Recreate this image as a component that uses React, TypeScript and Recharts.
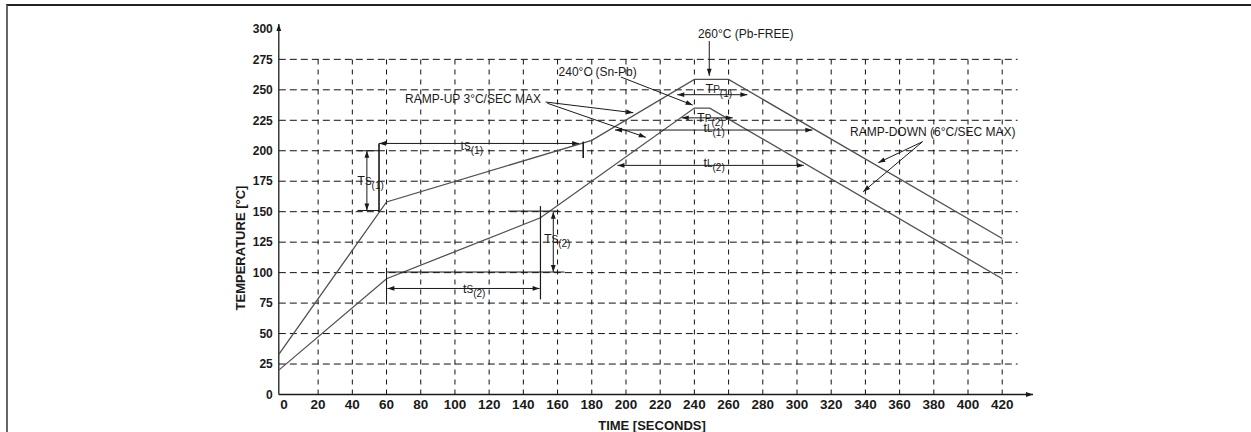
import React from "react";
import { LineChart, Line, XAxis, YAxis, ReferenceLine, ReferenceDot } from "recharts";

// reflow profiles (time s, temperature °C)
const PB_FREE_TIME = [-3, 60, 180, 240, 260, 420];
const PB_FREE_TEMP = [33, 158, 208.5, 258.5, 258.5, 128];
const SNPB_TIME = [-3, 60, 150, 240, 249, 420];
const SNPB_TEMP = [20, 95, 145, 235, 235, 95];

const X_TICKS = [0, 20, 40, 60, 80, 100, 120, 140, 160, 180, 200, 220, 240, 260, 280, 300, 320, 340, 360, 380, 400, 420];
const Y_TICKS = [0, 25, 50, 75, 100, 125, 150, 175, 200, 225, 250, 275, 300];
const GRID_X = [20, 40, 60, 80, 100, 120, 140, 160, 180, 200, 220, 240, 260, 280, 300, 320, 340, 360, 380, 400, 420];
const GRID_Y = [25, 50, 75, 100, 125, 150, 175, 200, 225, 250, 275];

type Heads = "none" | "end" | "both";
// annotation segments: [t1, T1, t2, T2], heads, stroke width
const SEGMENTS: { p: number[]; heads?: Heads; w?: number }[] = [
  // Ts(1)
  { p: [43, 200, 55.6, 200] },
  { p: [43, 151, 55.6, 151] },
  { p: [55.6, 206, 55.6, 150], w: 1.6 },
  { p: [48.5, 200, 48.5, 151], heads: "both" },
  // ts(1)
  { p: [55.6, 206, 172.6, 206], heads: "both" },
  { p: [175, 194, 175, 207.5], w: 1.6 },
  // Ts(2)
  { p: [131, 150.5, 161, 150.5] },
  { p: [150, 154.6, 150, 78], w: 1.2 },
  { p: [60, 100.5, 164, 100.5] },
  { p: [60, 104, 60, 77.5] },
  { p: [157.5, 150, 157.5, 100.5], heads: "both" },
  // ts(2)
  { p: [60.5, 87, 149.5, 87], heads: "both" },
  // 260°C pointer
  { p: [248.7, 290, 248.7, 261.5], heads: "end" },
  // TP(1), TP(2), tL(1), tL(2)
  { p: [230, 246, 271, 246], heads: "both" },
  { p: [232.6, 227, 262.4, 227], heads: "both" },
  { p: [193.6, 217, 309, 217], heads: "both" },
  { p: [195, 188, 304, 188], heads: "both" },
  // 240°C pointer
  { p: [197, 260.5, 239, 237.5], heads: "end" },
  // ramp-up pointers
  { p: [153, 240, 204.3, 231.2], heads: "end" },
  { p: [154, 239, 211.6, 211], heads: "end" },
  // ramp-down pointers
  { p: [373.4, 207.4, 347.5, 190.2], heads: "end" },
  { p: [373.4, 207.4, 338.7, 166.4], heads: "end" },
];

const TEXTS = [
  { t: 270, c: 292.5, text: "260°C (Pb-FREE)", anchor: "middle" },
  { t: 160.6, c: 261.7, text: "240°C (Sn-Pb)", anchor: "start" },
  { t: 70.8, c: 239, text: "RAMP-UP 3°C/SEC MAX", anchor: "start" },
  { t: 331, c: 212, text: "RAMP-DOWN (6°C/SEC MAX)", anchor: "start" },
];

const SUB_LABELS = [
  { t: 42.9, c: 172, main: "T", small: "S", sub: "(1)" },
  { t: 103.3, c: 200.5, main: "t", small: "S", sub: "(1)" },
  { t: 152, c: 124, main: "T", small: "S", sub: "(2)" },
  { t: 104.7, c: 83, main: "t", small: "S", sub: "(2)" },
  { t: 246.5, c: 247, main: "T", small: "P", sub: "(1)" },
  { t: 241.6, c: 224, main: "T", small: "P", sub: "(2)" },
  { t: 245.3, c: 215.6, main: "t", small: "L", sub: "(1)" },
  { t: 245.3, c: 186.5, main: "t", small: "L", sub: "(2)" },
];

const pbFree = PB_FREE_TIME.map((t, i) => ({ t, c: PB_FREE_TEMP[i] }));
const snPb = SNPB_TIME.map((t, i) => ({ t, c: SNPB_TEMP[i] }));

const FONT = "'Liberation Sans', Arial, sans-serif";
const INK = "#1a1a1a";

function head(xa: number, ya: number, xb: number, yb: number) {
  // arrow tip at (xa, ya), coming from (xb, yb)
  const dx = xa - xb;
  const dy = ya - yb;
  const len = Math.hypot(dx, dy) || 1;
  const ux = dx / len;
  const uy = dy / len;
  const L = 7;
  const W = 2.4;
  const bx = xa - ux * L;
  const by = ya - uy * L;
  return `${xa},${ya} ${bx - uy * W},${by + ux * W} ${bx + uy * W},${by - ux * W}`;
}

function Seg(props: any) {
  const { x1, y1, x2, y2, heads = "none", w = 1, dash, color = INK } = props;
  return (
    <g>
      <line x1={x1} y1={y1} x2={x2} y2={y2} stroke={color} strokeWidth={w} strokeDasharray={dash} />
      {heads !== "none" && <polygon points={head(x2, y2, x1, y1)} fill={color} />}
      {heads === "both" && <polygon points={head(x1, y1, x2, y2)} fill={color} />}
    </g>
  );
}

export default function App() {
  return (
    <div style={{ position: "absolute", left: 0, top: 0, width: 1251, height: 432, background: "#fff" }}>
      <div
        style={{
          position: "absolute",
          left: 6,
          top: 4,
          width: 1245,
          height: 428,
          borderTop: "2px solid #222",
          borderLeft: "2px solid #666",
        }}
      />
      <div style={{ position: "absolute", left: 0, top: 0 }}>
        <LineChart width={1251} height={432} margin={{ top: 24, right: 218, bottom: 0, left: 0 }}>
          <XAxis
            type="number"
            dataKey="t"
            domain={[-3, 438]}
            ticks={X_TICKS}
            interval={0}
            height={37.5}
            axisLine={false}
            tickLine={false}
            tickSize={3}
            tickMargin={2}
            tick={{ fontSize: 13.5, fontWeight: "bold", fill: INK, fontFamily: FONT }}
            label={{
              content: () => (
                <text x={652} y={429.5} textAnchor="middle" fontSize={13} fontWeight="bold" fill={INK} fontFamily={FONT}>
                  TIME [SECONDS]
                </text>
              ),
            }}
          />
          <YAxis
            type="number"
            domain={[0, 304]}
            ticks={Y_TICKS}
            interval={0}
            width={278.8}
            axisLine={false}
            tickLine={false}
            tickSize={4}
            tickMargin={2}
            tick={{ fontSize: 12, fontWeight: "bold", fill: INK, fontFamily: FONT }}
            label={{
              content: () => (
                <text
                  x={240}
                  y={248}
                  transform="rotate(-90 240 248)"
                  textAnchor="middle"
                  dominantBaseline="central"
                  fontSize={13}
                  fontWeight="bold"
                  fill={INK}
                  fontFamily={FONT}
                >
                  TEMPERATURE [°C]
                </text>
              ),
            }}
          />

          {/* dashed grid */}
          {GRID_X.map((t) => (
            <ReferenceLine
              key={"gx" + t}
              segment={[{ x: t, y: 0 }, { x: t, y: 276 }]}
              shape={(p: any) => <Seg {...p} dash="5 5" color="#111" />}
            />
          ))}
          {GRID_Y.map((c) => (
            <ReferenceLine
              key={"gy" + c}
              segment={[{ x: -3, y: c }, { x: 429, y: c }]}
              shape={(p: any) => <Seg {...p} dash="7 4" color="#111" />}
            />
          ))}

          {/* axes with arrows */}
          <ReferenceLine segment={[{ x: -3, y: 0 }, { x: 438, y: 0 }]} shape={(p: any) => <Seg {...p} heads="end" w={1.3} />} />
          <ReferenceLine segment={[{ x: -3, y: 0 }, { x: -3, y: 304 }]} shape={(p: any) => <Seg {...p} heads="end" w={1.3} />} />

          <Line data={pbFree} dataKey="c" type="linear" stroke="#505050" strokeWidth={1.3} dot={false} isAnimationActive={false} />
          <Line data={snPb} dataKey="c" type="linear" stroke="#505050" strokeWidth={1.3} dot={false} isAnimationActive={false} />

          {SEGMENTS.map((s, i) => (
            <ReferenceLine
              key={"s" + i}
              segment={[{ x: s.p[0], y: s.p[1] }, { x: s.p[2], y: s.p[3] }]}
              shape={(p: any) => <Seg {...p} heads={s.heads} w={s.w} />}
            />
          ))}

          {TEXTS.map((d, i) => (
            <ReferenceDot
              key={"tx" + i}
              x={d.t}
              y={d.c}
              r={1}
              shape={(p: any) => (
                <text x={p.cx} y={p.cy} textAnchor={d.anchor as any} fontSize={12} fill={INK} fontFamily={FONT}>
                  {d.text}
                </text>
              )}
            />
          ))}

          {SUB_LABELS.map((d, i) => (
            <ReferenceDot
              key={"sl" + i}
              x={d.t}
              y={d.c}
              r={1}
              shape={(p: any) => (
                <text x={p.cx} y={p.cy} fontSize={12.5} fill={INK} fontFamily={FONT}>
                  {d.main}
                  <tspan fontSize={10}>{d.small}</tspan>
                  <tspan fontSize={10} dy={4}>
                    {d.sub}
                  </tspan>
                </text>
              )}
            />
          ))}
        </LineChart>
      </div>
    </div>
  );
}
